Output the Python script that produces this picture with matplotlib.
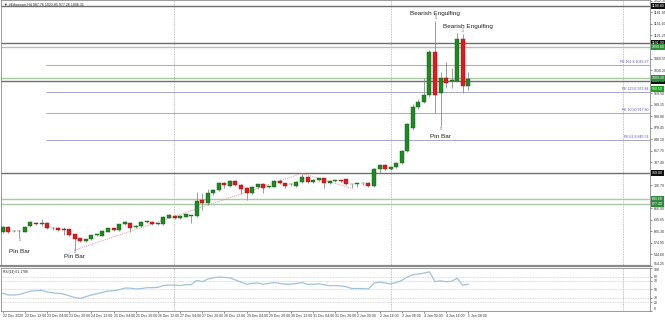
import matplotlib
matplotlib.use("Agg")
import matplotlib.pyplot as plt
import matplotlib.transforms as mtrans
import numpy as np

plt.rcParams['font.family'] = ['Liberation Sans', 'DejaVu Sans']

# ---------------- data ----------------
opens = [604.6, 617.7, 606.0, 606.5, 604.6, 619.5, 628.3, 626.0, 628.3, 613.3,
         615.1, 610.7, 610.7, 597.5, 587.0, 580.0, 584.4, 595.8, 594.0, 604.6,
         613.3, 609.0, 624.8, 628.3, 615.9, 620.4, 630.0, 630.0, 624.8, 624.8,
         641.5, 646.0, 640.0, 644.0, 646.7, 645.8, 687.9, 679.1, 705.5, 714.2,
         731.8, 725.7, 738.8, 727.4, 718.6, 707.2, 721.3, 729.2, 723.0, 723.0,
         738.8, 731.8, 729.2, 725.7, 734.4, 747.6, 736.2, 740.6, 745.0, 731.8,
         738.8, 738.8, 742.3, 729.2, 730.0, 731.8, 733.6, 725.7, 768.7, 780.1,
         768.7, 775.7, 786.2, 816.9, 878.0, 932.0, 947.0, 964.0, 1078.5, 969.0,
         1008.0, 1002.0, 1002.0, 1111.0, 987.76]
highs = [620.0, 620.0, 609.0, 610.0, 619.0, 633.0, 631.0, 637.0, 630.0, 616.0,
         617.0, 617.7, 612.0, 599.0, 589.0, 586.0, 597.0, 599.0, 608.0, 615.0,
         615.0, 626.0, 633.0, 630.0, 621.0, 632.0, 634.0, 632.0, 627.0, 646.0,
         651.0, 649.0, 648.0, 652.0, 649.0, 709.9, 705.5, 716.0, 717.0, 735.0,
         736.2, 741.0, 741.0, 730.0, 721.0, 724.0, 731.0, 732.0, 726.0, 741.0,
         742.0, 734.0, 732.0, 738.0, 758.1, 750.0, 742.0, 747.0, 747.0, 740.0,
         741.0, 741.0, 744.0, 731.0, 732.0, 734.0, 736.0, 771.0, 782.0, 782.0,
         778.0, 788.0, 819.0, 892.0, 940.0, 955.0, 1008.0, 1082.0, 1160.0, 1026.0,
         1052.0, 1035.0, 1127.0, 1124.0, 1023.85]
lows = [600.0, 602.0, 603.0, 590.0, 603.0, 617.0, 623.0, 619.5, 611.0, 610.0,
        606.0, 595.8, 594.0, 556.3, 578.0, 578.0, 582.0, 593.0, 592.0, 603.0,
        607.0, 607.0, 622.0, 604.6, 614.0, 618.0, 628.0, 622.0, 621.0, 623.0,
        640.0, 637.0, 638.0, 642.0, 626.5, 643.0, 661.6, 676.0, 702.0, 712.0,
        718.6, 722.0, 725.0, 705.0, 687.9, 704.0, 718.0, 705.5, 719.0, 721.0,
        729.0, 718.6, 726.0, 723.0, 732.0, 734.0, 734.0, 738.0, 718.6, 729.0,
        736.0, 736.0, 727.0, 718.6, 722.0, 727.0, 723.0, 723.0, 758.0, 766.0,
        766.0, 773.0, 784.0, 815.0, 872.0, 928.0, 944.0, 960.0, 916.0, 882.0,
        982.0, 982.0, 998.0, 971.0, 977.26]
closes = [617.7, 604.6, 606.9, 606.0, 617.7, 630.9, 624.8, 627.0, 613.3, 613.8,
          608.9, 610.2, 595.8, 584.4, 580.0, 584.4, 595.8, 596.3, 606.3, 613.3,
          609.0, 624.8, 630.9, 615.1, 619.5, 630.0, 632.0, 624.0, 625.2, 644.1,
          648.5, 640.0, 646.0, 650.0, 647.2, 686.5, 679.1, 705.5, 714.2, 731.8,
          727.4, 738.8, 727.4, 716.0, 707.2, 721.3, 729.2, 720.4, 723.4, 738.8,
          731.8, 724.8, 729.6, 736.2, 747.6, 736.2, 740.6, 745.0, 731.8, 737.9,
          739.2, 738.4, 729.2, 729.6, 730.4, 732.2, 725.7, 768.7, 780.1, 768.7,
          775.7, 786.2, 816.9, 889.0, 932.0, 947.0, 964.0, 1078.5, 964.0, 1008.0,
          997.0, 1002.5, 1111.0, 988.0, 1006.31]
rsi = [41, 37, 37, 38, 42, 46, 47, 48, 44, 42,
       41, 39, 35, 31, 29, 33, 37, 40, 43, 46,
       47, 49, 53, 53, 51, 52, 54, 54, 55, 59,
       60, 60, 59, 61, 61, 71, 68, 74, 77, 79,
       78, 77, 72, 67, 62, 64, 65, 62, 64, 66,
       64, 62, 62, 64, 66, 62, 62, 63, 61, 58.5,
       59, 58, 56, 52, 52, 52, 51, 65, 67, 65,
       63, 66, 71, 79, 84, 86, 88, 91, 68, 70,
       68, 69, 76, 60, 62]

x_tick_labels = ["22 Dec 2020", "22 Dec 12:00", "23 Dec 04:00", "23 Dec 20:00",
                 "24 Dec 12:00", "25 Dec 04:00", "25 Dec 20:00", "26 Dec 12:00",
                 "27 Dec 04:00", "27 Dec 20:00", "28 Dec 12:00", "29 Dec 04:00",
                 "29 Dec 20:00", "30 Dec 12:00", "31 Dec 04:00", "31 Dec 20:00",
                 "2 Jan 00:00", "2 Jan 16:00", "3 Jan 08:00", "4 Jan 00:00",
                 "4 Jan 16:00", "5 Jan 08:00"]
# price-scale labels that are not hidden behind the level boxes
price_ticks = [514.25, 544.60, 574.95, 605.30, 635.65, 666.00, 726.70,
               787.40, 817.75, 848.10, 878.45, 908.80, 939.15, 969.50,
               1030.20, 1060.55, 1121.25, 1151.60, 1181.95, 1212.30]
rsi_ticks = [0, 20, 30, 50, 70, 80, 100]
rsi_levels = [20, 30, 50, 70, 80]

gray_levels = [1198.80, 1101.30, 1001.30, 759.00]
green_levels = [1090.80, 1009.20, 690.60, 677.40]
bid_level = 980.50
fe_names = ["FE 161.8", "FE 123.6", "FE 100.0", "FE 61.8"]
fe_levels = [1043.27, 972.84, 917.80, 845.54]
fe_start = 7.8
separators = [30.9, 70.0, 112.0]
zigzag_idx = [13, 54, 63]
zigzag_val = [556.3, 758.1, 718.6]

# ---------------- figure ----------------
W, H = 665, 320
fig = plt.figure(figsize=(W / 100, H / 100), dpi=100)


def fy(px):
    return 1 - px / H


AX_R = 650 / W
ax = fig.add_axes([0.0015, fy(266), AX_R - 0.0015, 266 / H])
rax = fig.add_axes([0.0015, fy(311), AX_R - 0.0015, (311 - 268) / H])

X_LO, X_HI = -0.31, 116.8
ax.set_xlim(X_LO, X_HI)
rax.set_xlim(X_LO, X_HI)
ax.set_ylim(514.2, 1214.6)
rax.set_ylim(-0.5, 99.5)

for a in (ax, rax):
    for s in a.spines.values():
        s.set_color('#8c8c8c')
        s.set_linewidth(0.6)
ax.spines['bottom'].set_linewidth(1.6)
ax.spines['bottom'].set_color('#8a8a8a')

# separators
for sx in separators:
    ax.axvline(sx, color='#9a9a9a', lw=0.5, ls=(0, (1.2, 1.2)), zorder=1)
    rax.axvline(sx, color='#9a9a9a', lw=0.5, ls=(0, (1.2, 1.2)), zorder=1)

# horizontal levels
for v in gray_levels:
    ax.axhline(v, color='#6e6e6e', lw=1.0, zorder=2)
for v in green_levels:
    ax.axhline(v, color='#a9c9a4', lw=1.0, zorder=2)
for name, v in zip(fe_names, fe_levels):
    ax.hlines(v, fe_start, X_HI, color='#9a9ac8', lw=0.6, zorder=2)
    ax.text(X_HI - 0.3, v + 2, f"{name} {v:.2f}", fontsize=2.6, color='#5555a0',
            ha='right', va='bottom', zorder=4)

# zigzag dotted line
ax.plot(zigzag_idx, zigzag_val, color='#e08a8a', lw=0.6, ls=(0, (1.2, 1.2)), zorder=2.5)

# candles
o = np.array(opens); h = np.array(highs); l = np.array(lows); c = np.array(closes)
xs = np.arange(len(o))
ax.vlines(xs, l, h, color='#8a8a8a', lw=0.6, zorder=3)
up = c >= o
bottoms = np.minimum(o, c)
heights = np.maximum(np.abs(c - o), 1.6)
ax.bar(xs[up], heights[up], bottom=bottoms[up], width=0.72, color='#1d8a23',
       edgecolor='#0f5a12', linewidth=0.3, zorder=4)
ax.bar(xs[~up], heights[~up], bottom=bottoms[~up], width=0.72, color='#e3171d',
       edgecolor='#a01010', linewidth=0.3, zorder=4)

# annotations
ann_kw = dict(fontsize=4.6, color='#222222', ha='center', va='center', zorder=6)
ax.text(78, 1179, "Bearish Engulfing", **ann_kw)
ax.text(84, 1146, "Bearish Engulfing", **ann_kw)
ax.text(79, 856, "Pin Bar", **ann_kw)
ax.text(3, 552, "Pin Bar", **ann_kw)
ax.text(13, 539, "Pin Bar", **ann_kw)
arr_kw = dict(fontsize=3.6, color='#777777', ha='center', va='center', zorder=6,
              family='DejaVu Sans')
ax.text(78, 1168, "\u21e9", **arr_kw)
ax.text(83, 1133, "\u21e9", **arr_kw)
ax.text(79, 875, "\u21e7", **arr_kw)
ax.text(3, 583, "\u21e7", **arr_kw)
ax.text(13, 552, "\u21e7", **arr_kw)

# title
ax.text(0.004, 0.992, "\u25bc #Ethereum,H4 987.76 1023.85 977.26 1006.31",
        transform=ax.transAxes, fontsize=2.6, color='#222222', ha='left', va='top',
        family=['Liberation Sans', 'DejaVu Sans'], zorder=6)

# price axis
ax.yaxis.tick_right()
ax.set_yticks(price_ticks)
ax.set_yticklabels([f"{t:.2f}" for t in price_ticks])
ax.tick_params(axis='y', labelsize=2.6, length=1.5, width=0.4, pad=1,
               colors='#333333')
ax.set_xticks([])
ax.get_yticklabels()[0].set_verticalalignment('bottom')

trans = mtrans.blended_transform_factory(ax.transAxes, ax.transData)
box_kw = dict(transform=trans, fontsize=2.6, color='white', ha='left',
              va='center', clip_on=False, zorder=10)
for v in gray_levels:
    ax.text(1.003, v, f"{v:.2f}", bbox=dict(boxstyle='square,pad=0.25', fc='#111111',
                                             ec='none'), **box_kw)
for v in green_levels:
    ax.text(1.003, v, f"{v:.2f}", bbox=dict(boxstyle='square,pad=0.25', fc='#2e8b3a',
                                             ec='none'), **box_kw)
ax.text(1.003, bid_level, f"{bid_level:.2f}",
        bbox=dict(boxstyle='square,pad=0.25', fc='#1aa31a', ec='none'), **box_kw)

# RSI panel
for lv in rsi_levels:
    rax.axhline(lv, color='#c4c4c4', lw=0.5, ls=(0, (1.2, 1.2)), zorder=1)
rax.plot(xs, rsi, color='#9fc3dc', lw=0.9, zorder=3)
rax.text(0.003, 0.96, "RSI(14) 61.1788", transform=rax.transAxes, fontsize=2.4,
         color='#222222', ha='left', va='top')
rax.yaxis.tick_right()
rax.set_yticks(rsi_ticks)
rax.set_yticklabels([str(t) for t in rsi_ticks])
rax.tick_params(axis='y', labelsize=2.5, length=1.5, width=0.4, pad=1, colors='#333333')
rax.get_yticklabels()[-1].set_verticalalignment('top')
rax.get_yticklabels()[0].set_verticalalignment('bottom')
rax.set_xticks([4 * k for k in range(len(x_tick_labels))])
rax.set_xticklabels(x_tick_labels, ha='left')
rax.tick_params(axis='x', labelsize=2.5, length=1.5, width=0.4, pad=1, colors='#333333')

fig.savefig("out.png", dpi=100, facecolor='white')
